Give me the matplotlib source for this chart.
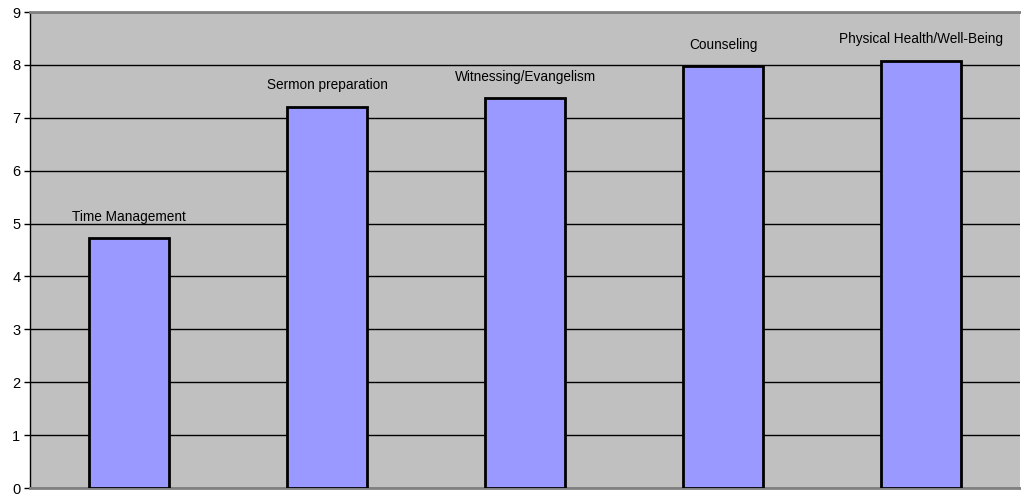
import matplotlib.pyplot as plt

categories = ['Time Management', 'Sermon preparation', 'Witnessing/Evangelism',
              'Counseling', 'Physical Health/Well-Being']
values = [4.72, 7.21, 7.37, 7.98, 8.08]

plt.rcParams['font.family'] = ['Liberation Sans', 'DejaVu Sans']

fig = plt.figure(figsize=(10.21, 4.95), dpi=100)
ax = fig.add_axes([30 / 1021, 1 - 488 / 495, 990 / 1021, 476 / 495])
ax.set_facecolor('#C0C0C0')

x = range(len(categories))
ax.bar(x, values, width=0.405, color='#9999FF', edgecolor='black', linewidth=2, zorder=3)

for xi, v, name in zip(x, values, categories):
    ax.text(xi, v + 0.27, name, ha='center', va='bottom', fontsize=9.8, zorder=4)

ax.set_xlim(-0.5, len(categories) - 0.5)
ax.set_ylim(0, 9)
ax.set_yticks(range(0, 10))
ax.set_xticks([])
ax.yaxis.grid(True, color='black', linewidth=1, zorder=0)
ax.set_axisbelow(True)
ax.tick_params(axis='y', length=4, width=1, labelsize=10.5, pad=3)

ax.spines['left'].set_color('black')
ax.spines['left'].set_linewidth(1)
ax.spines['right'].set_visible(False)
ax.spines['top'].set_color('#808080')
ax.spines['top'].set_linewidth(2)
ax.spines['bottom'].set_color('#808080')
ax.spines['bottom'].set_linewidth(2)

fig.savefig('out.png', dpi=100)
